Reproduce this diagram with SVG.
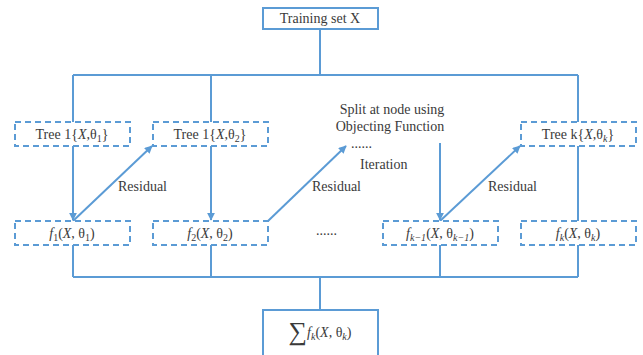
<svg xmlns="http://www.w3.org/2000/svg" width="643" height="355" viewBox="0 0 643 355">
<style>
.box{fill:#fff;stroke:#5B9BD5;stroke-width:2}
.dbox{fill:#fff;stroke:#5B9BD5;stroke-width:2;stroke-dasharray:6 4}
.ln{fill:none;stroke:#5B9BD5;stroke-width:2}
.arr{fill:none;stroke:#5B9BD5;stroke-width:2;marker-end:url(#ah)}
text{font-family:'Liberation Serif','Times New Roman','DejaVu Serif',serif;font-size:14px;fill:#3a3a3a}
.c{text-anchor:middle}
.i{font-style:italic}
.s{font-size:10px}
</style>
<defs>
<marker id="ah" viewBox="0 0 10 10" refX="9" refY="5" markerWidth="4" markerHeight="4" orient="auto" markerUnits="strokeWidth">
<path d="M0,0 L10,5 L0,10 z" fill="#5B9BD5"/>
</marker>
</defs>
<g id="connectors">
<path class="ln" d="M320,30 V75 M73,75 H578 M73,75 V122 M211,75 V122 M578,75 V122"/>
<path class="arr" d="M73,146 V220"/>
<path class="arr" d="M211,146 V220"/>
<path class="ln" d="M578,146 V221"/>
<path class="arr" d="M440,143 V220"/>
<path class="arr" d="M73,221 L152,146"/>
<path class="arr" d="M268,221 L346,146"/>
<path class="arr" d="M440,221 L520,146"/>
<path class="ln" d="M73,245 V277 M211,245 V277 M440,245 V277 M578,245 V277 M73,277 H578 M320,277 V310"/>
</g>
<g id="training"><rect class="box" x="263" y="8" width="115" height="21"/><text class="c" x="320" y="23">Training set X</text></g>
<g id="tree1"><rect class="dbox" x="15" y="122" width="115" height="24"/><text class="c" x="72" y="139">Tree 1{<tspan class="i">X</tspan>,θ<tspan class="s" dy="3">1</tspan><tspan dy="-3">}</tspan></text></g>
<g id="tree2"><rect class="dbox" x="153" y="122" width="115" height="24"/><text class="c" x="210" y="139">Tree 1{<tspan class="i">X</tspan>,θ<tspan class="s" dy="3">2</tspan><tspan dy="-3">}</tspan></text></g>
<g id="treek"><rect class="dbox" x="521" y="122" width="115" height="24"/><text class="c" x="578" y="139">Tree k{<tspan class="i">X</tspan>,θ<tspan class="s i" dy="3">k</tspan><tspan dy="-3">}</tspan></text></g>
<g id="f1"><rect class="dbox" x="15" y="221" width="115" height="24"/><text class="c" x="72" y="238"><tspan class="i">f</tspan><tspan class="s" dy="3">1</tspan><tspan dy="-3">(</tspan><tspan class="i">X</tspan>, θ<tspan class="s" dy="3">1</tspan><tspan dy="-3">)</tspan></text></g>
<g id="f2"><rect class="dbox" x="153" y="221" width="115" height="24"/><text class="c" x="210" y="238"><tspan class="i">f</tspan><tspan class="s" dy="3">2</tspan><tspan dy="-3">(</tspan><tspan class="i">X</tspan>, θ<tspan class="s" dy="3">2</tspan><tspan dy="-3">)</tspan></text></g>
<g id="fk1"><rect class="dbox" x="383" y="221" width="115" height="24"/><text class="c" x="440" y="238"><tspan class="i">f</tspan><tspan class="s i" dy="3">k−1</tspan><tspan dy="-3">(</tspan><tspan class="i">X</tspan>, θ<tspan class="s i" dy="3">k−1</tspan><tspan dy="-3">)</tspan></text></g>
<g id="fk"><rect class="dbox" x="521" y="221" width="115" height="24"/><text class="c" x="578" y="238"><tspan class="i">f</tspan><tspan class="s i" dy="3">k</tspan><tspan dy="-3">(</tspan><tspan class="i">X</tspan>, θ<tspan class="s i" dy="3">k</tspan><tspan dy="-3">)</tspan></text></g>
<g id="sum"><rect class="box" x="263" y="310" width="115" height="46"/><text class="c" x="320" y="337"><tspan font-size="26" dy="3">∑</tspan><tspan class="i" dy="-3">f</tspan><tspan class="s i" dy="3">k</tspan><tspan dy="-3">(</tspan><tspan class="i">X</tspan>, θ<tspan class="s i" dy="3">k</tspan><tspan dy="-3">)</tspan></text></g>
<g id="labels">
<text x="118" y="191">Residual</text>
<text x="312" y="191">Residual</text>
<text x="488" y="191">Residual</text>
<text class="c" x="392" y="114">Split at node using</text>
<text class="c" x="390" y="131">Objecting Function</text>
<text x="351" y="148" font-size="9">......</text>
<text x="360" y="169">Iteration</text>
<text x="316" y="235" font-size="9">......</text>
</g>
</svg>
